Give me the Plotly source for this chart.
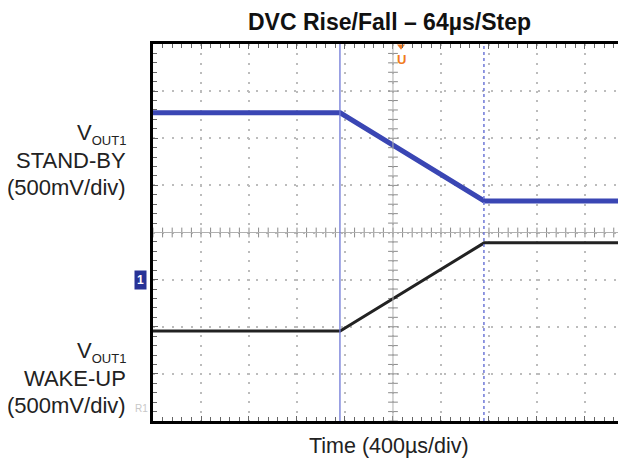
import numpy as np
import plotly.graph_objects as go

# ---- data (time in µs, 400 µs/div; screen level in mV, 500 mV/div) ----
time_us = [0, 1560, 2760, 3942]
standby_mv = [3270, 3270, 2335, 2335]
wakeup_mv = [955, 955, 1890, 1890]
cursor_us = [1558, 2758]
x_range = [0, 3942]
y_range = [0, 4000]
x_div = 400
y_div = 500

FONT = "Liberation Sans, Arial, sans-serif"
BLUE = "rgb(58,70,180)"
CURSOR = "rgb(110,120,215)"

fig = go.Figure()

# centre crosshair tick marks
cx = 5 * x_div
cy = 4 * y_div
ys_t = list(np.arange(0, 4000, 100))
xs_t = list(np.arange(0, 3942, 80))
fig.add_trace(go.Scatter(
    x=[cx] * len(ys_t), y=ys_t, mode="markers",
    marker=dict(symbol="line-ew", size=7, line=dict(width=1, color="#8a8a8a")),
    hoverinfo="skip", showlegend=False))
fig.add_trace(go.Scatter(
    x=xs_t, y=[cy] * len(xs_t), mode="markers",
    marker=dict(symbol="line-ns", size=7, line=dict(width=1, color="#8a8a8a")),
    hoverinfo="skip", showlegend=False))

# waveforms
fig.add_trace(go.Scatter(x=time_us, y=wakeup_mv, mode="lines",
                         line=dict(color="#222222", width=3), showlegend=False))
fig.add_trace(go.Scatter(x=time_us, y=standby_mv, mode="lines",
                         line=dict(color=BLUE, width=5), showlegend=False))

# markers: trigger, channel offset diamond
fig.add_trace(go.Scatter(x=[2067], y=[3975], mode="markers",
                         marker=dict(symbol="triangle-down", size=7, color="#f07a20"),
                         cliponaxis=False, showlegend=False))
fig.add_trace(go.Scatter(x=[3935], y=[2875], mode="markers",
                         marker=dict(symbol="diamond", size=11, color=BLUE),
                         cliponaxis=False, showlegend=False))

# dummy trace for top border axis
fig.add_trace(go.Scatter(x=[0], y=[0], xaxis="x2", mode="markers",
                         marker=dict(opacity=0), hoverinfo="skip", showlegend=False))

# centre lines and cursors
fig.add_shape(type="line", x0=cx, x1=cx, y0=0, y1=4000, line=dict(color="#b0b0b0", width=1))
fig.add_shape(type="line", x0=0, x1=3942, y0=cy, y1=cy, line=dict(color="#b0b0b0", width=1))
fig.add_shape(type="line", x0=cursor_us[0], x1=cursor_us[0], y0=0, y1=4000,
              line=dict(color=CURSOR, width=1.3))
fig.add_shape(type="line", x0=cursor_us[1], x1=cursor_us[1], y0=0, y1=4000,
              line=dict(color=CURSOR, width=1.5, dash="3px,3px"))

axis_common = dict(
    showgrid=True, gridcolor="#bcbcbc", gridwidth=1.5, griddash="2px,7.4px",
    showline=True, linecolor="black", linewidth=3,
    ticks="inside", ticklen=5, tickcolor="#666", tickwidth=1,
    showticklabels=False, zeroline=False, fixedrange=True,
)

# page body has an 8px margin, so the figure is offset by 8px right/down
fig.update_layout(
    width=618, height=459,
    margin=dict(l=145, r=0, t=36, b=46),
    paper_bgcolor="white", plot_bgcolor="white",
    xaxis=dict(range=x_range, dtick=x_div, tick0=0,
               minor=dict(dtick=x_div / 5, ticks="inside", ticklen=4, tickcolor="#666", showgrid=False),
               **axis_common),
    xaxis2=dict(range=x_range, overlaying="x", side="top", showgrid=False,
                showline=True, linecolor="black", linewidth=3,
                ticks="inside", ticklen=5, tickcolor="#666", dtick=x_div, tick0=0,
                minor=dict(dtick=x_div / 5, ticks="inside", ticklen=4, tickcolor="#666"),
                showticklabels=False, zeroline=False),
    yaxis=dict(range=y_range, dtick=y_div, tick0=0,
               minor=dict(dtick=y_div / 5, ticks="inside", ticklen=4, tickcolor="#666", showgrid=False),
               **axis_common),
    showlegend=False,
)

def px_to_paper_x(px):
    return (px - 153) / 473.0

def px_to_paper_y(py):
    return (421 - py) / 377.0

def px_to_mv(py):
    return (421 - py) / 377.0 * 4000

annos = []
# title (anchored to the top edge of the figure so its box stays inside)
annos.append(dict(text="<b>DVC Rise/Fall – 64µs/Step</b>", xref="paper", yref="paper",
                  x=px_to_paper_x(389), y=px_to_paper_y(8), xanchor="center", yanchor="top",
                  borderpad=0, showarrow=False, font=dict(family=FONT, size=23, color="#111")))
# x label
annos.append(dict(text="Time (400µs/div)", xref="paper", yref="paper",
                  x=px_to_paper_x(389), y=px_to_paper_y(446), xanchor="center", yanchor="middle",
                  showarrow=False, font=dict(family=FONT, size=21.5, color="#222")))

vout = "V<sub><span style='font-size:13px'>OUT1</span></sub>"
left_labels = [
    (vout, 134), ("STAND-BY", 160), ("(500mV/div)", 187),
    (vout, 352), ("WAKE-UP", 378), ("(500mV/div)", 405),
]
for txt, py in left_labels:
    annos.append(dict(text=txt, xref="paper", yref="y", x=px_to_paper_x(128), y=px_to_mv(py),
                      xanchor="right", yanchor="middle", showarrow=False,
                      font=dict(family=FONT, size=22, color="#222")))

# trigger "U"
annos.append(dict(text="<b>U</b>", xref="x", yref="y", x=2067, y=px_to_mv(59),
                  xanchor="center", yanchor="middle", showarrow=False,
                  font=dict(family=FONT, size=13, color="#f07a20")))
# channel 1 ground marker
annos.append(dict(text="<b>1</b>", xref="paper", yref="y", x=px_to_paper_x(140), y=1500,
                  xanchor="center", yanchor="middle", showarrow=False,
                  bgcolor="rgb(40,50,150)", borderpad=2,
                  font=dict(family=FONT, size=12, color="white")))
# R1 reference label
annos.append(dict(text="R1", xref="paper", yref="y", x=px_to_paper_x(141), y=px_to_mv(408),
                  xanchor="center", yanchor="middle", showarrow=False,
                  font=dict(family=FONT, size=10, color="#c8c8c8")))

fig.update_layout(annotations=annos)
fig.write_html("out.html")
